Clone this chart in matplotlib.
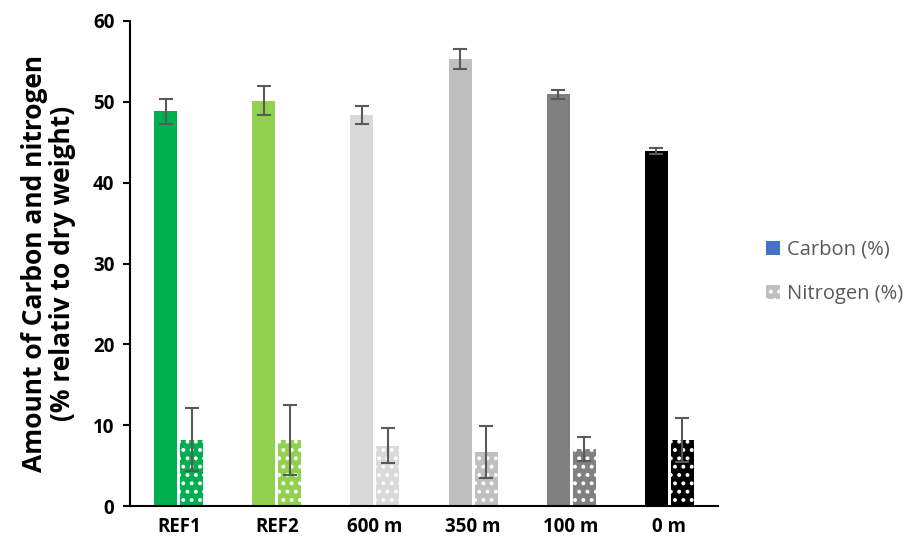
import numpy as np
import matplotlib
matplotlib.use('Agg')
import matplotlib.pyplot as plt
from matplotlib.patches import Patch

sites = ['REF1', 'REF2', '600 m', '350 m', '100 m', '0 m']
carbon = [48.8, 50.1, 48.4, 55.3, 50.9, 43.9]
carbon_err = [1.5, 1.8, 1.1, 1.2, 0.5, 0.35]
nitrogen = [8.2, 8.2, 7.5, 6.7, 7.05, 8.2]
nitrogen_err = [3.9, 4.3, 2.2, 3.2, 1.5, 2.7]
colors = ['#00B050', '#92D050', '#D9D9D9', '#BFBFBF', '#808080', '#000000']

plt.rcParams['font.family'] = ['Open Sans', 'DejaVu Sans']
plt.rcParams['hatch.linewidth'] = 1.6

fig = plt.figure(figsize=(9.07, 5.49), dpi=100)
ax = fig.add_axes([0.143, 0.078, 0.649, 0.884])

x = np.arange(len(sites))
w = 0.235
gap = 0.03
ax.bar(x - w/2 - gap/2, carbon, w, color=colors, linewidth=0)
ax.bar(x + w/2 + gap/2, nitrogen, w, color=colors, edgecolor='white', linewidth=0, hatch='..')
ax.errorbar(x - w/2 - gap/2, carbon, yerr=carbon_err, fmt='none', ecolor='#595959', elinewidth=1.5, capsize=5, capthick=1.5)
ax.errorbar(x + w/2 + gap/2, nitrogen, yerr=nitrogen_err, fmt='none', ecolor='#595959', elinewidth=1.5, capsize=5, capthick=1.5)

ax.set_xlim(-0.5, len(sites) - 0.5)
ax.set_ylim(0, 60)
ax.set_yticks(range(0, 61, 10))
ax.set_xticks(x)
ax.set_xticklabels(sites, fontsize=13.5, fontweight='bold')
for lab in ax.get_yticklabels():
    lab.set_fontsize(13.5)
    lab.set_fontweight('bold')
ax.tick_params(axis='x', length=0, pad=8)
ax.tick_params(axis='y', length=5, width=1.5, pad=6)
ax.spines['top'].set_visible(False)
ax.spines['right'].set_visible(False)
ax.spines['left'].set_linewidth(1.5)
ax.spines['bottom'].set_linewidth(1.5)
ax.set_ylabel('Amount of Carbon and nitrogen\n(% relativ to dry weight)', fontsize=19, fontweight='bold',
              labelpad=12, linespacing=1.05)

handles = [Patch(facecolor='#4472C4', linewidth=0),
           Patch(facecolor='#BFBFBF', edgecolor='white', linewidth=0, hatch='..')]
leg = fig.legend(handles, ['Carbon (%)', 'Nitrogen (%)'], loc='center left',
                 bbox_to_anchor=(0.825, 0.505), frameon=False, fontsize=14.5,
                 handlelength=0.7, handleheight=0.7, handletextpad=0.3, labelspacing=1.2)
for t in leg.get_texts():
    t.set_color('#595959')

fig.savefig('out.png', dpi=100)
